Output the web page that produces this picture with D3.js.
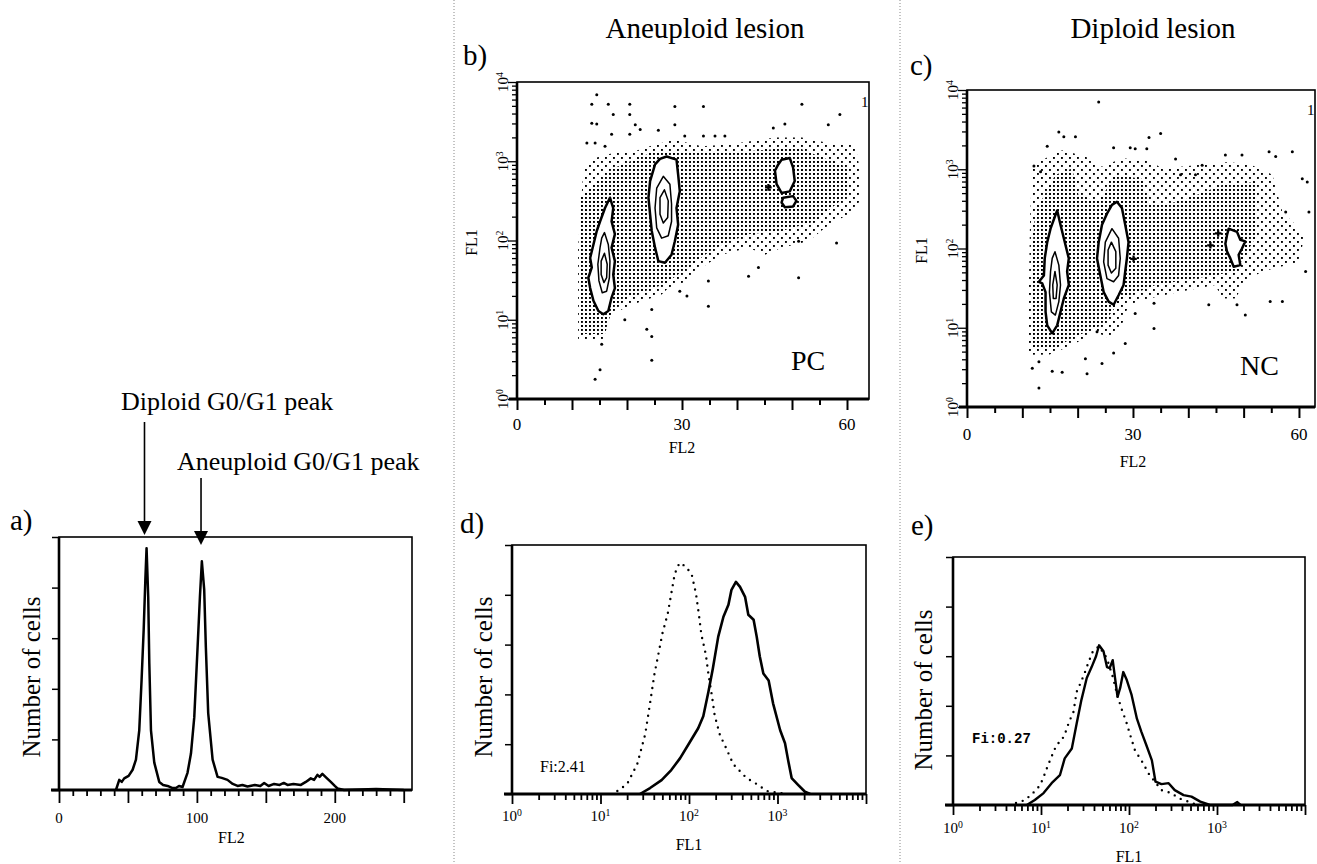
<!DOCTYPE html>
<html>
<head>
<meta charset="utf-8">
<script src="https://cdn.jsdelivr.net/npm/d3@7"></script>
<style>
  body { margin: 0; background: #fff; }
  svg { font-family: "Liberation Serif", "Times New Roman", serif; }
</style>
</head>
<body>
<svg id="fig" width="1317" height="864"></svg>
<script>
// ---------- a) DNA histogram: [FL2, number of cells]
const histA = [
  [41.3, 0], [43.7, 10], [45.5, 8], [47.3, 11.5], [50.5, 14], [53.4, 20], [55.8, 30], [58.2, 59],
  [59.9, 109], [61.4, 158], [62.6, 207], [63.5, 239], [64.7, 191], [65.5, 125], [66.7, 59],
  [69.1, 27], [72.7, 8], [75.5, 5], [78.7, 4], [82, 2], [84.8, 2], [87, 4], [89.6, 3],
  [93.2, 17], [95.7, 36], [98.1, 72], [100.5, 141], [102.2, 191], [103.6, 226], [105.3, 198],
  [106.5, 141], [108.2, 76], [111.4, 30], [115, 13], [118, 12], [122.2, 10], [126, 6],
  [129.5, 4], [133, 5], [136.7, 3.5], [142, 5], [146, 4], [148.8, 7], [152, 4], [156, 6],
  [160, 5], [163, 7], [165.7, 5], [170, 6], [175.4, 5], [179, 8], [182.6, 11.5], [185, 10],
  [187.4, 15], [189, 13], [191, 16], [194, 12], [197.1, 8], [200, 4], [202, 1.5], [206.7, 0],
  [230, 1], [250, 0]
];
const peaksA = [62, 103];
const peakNamesA = ["Diploid G0/G1 peak", "Aneuploid G0/G1 peak"];

// ---------- d) FL1 histograms, aneuploid lesion: [FL1, number of cells]
const controlD = [
  [15.5, 3], [20, 10], [26, 30], [32, 60], [36, 89], [40.6, 120], [45, 140], [50, 161],
  [57.5, 181], [63, 201], [69, 221], [78, 232], [90, 229], [107, 221], [120, 201], [129, 181],
  [138, 160], [155, 140], [166, 120], [182, 98], [195, 79], [224, 59], [257, 48], [316, 30],
  [447, 16], [582, 10], [759, 3], [977, 1.5], [1318, 0]
];
const stainedD = [
  [27.9, 0], [36.3, 6], [49, 14], [63, 24], [79.4, 36], [102, 52], [127, 66], [145, 78],
  [166, 103], [186, 126], [214, 158], [245, 178], [279, 190], [302, 205], [339, 213],
  [377, 208], [430, 198], [468, 180], [537, 175], [582, 158], [631, 138], [692, 121],
  [794, 114], [891, 91], [1072, 64], [1216, 51], [1318, 34], [1445, 16], [1718, 9],
  [2042, 2.3], [2344, 0]
];

// ---------- e) FL1 histograms, diploid lesion
const controlE = [
  [5.2, 2], [6.6, 5], [8.1, 12], [9.8, 20], [11, 31], [12, 40], [13.5, 51], [15.1, 61],
  [17.2, 65], [19.1, 74], [20.9, 84], [23.4, 94], [25.4, 114], [28.5, 124], [31.6, 134],
  [34.7, 144], [38.9, 155], [45.7, 160], [56, 148], [65, 130], [74, 110], [83, 96], [93, 84],
  [102, 72], [117, 55], [145, 42], [166, 32], [234, 15], [305, 12], [363, 7], [490, 3], [589, 0]
];
const stainedE = [
  [6.9, 0], [8.5, 5], [10.7, 12], [13.2, 22], [16.4, 30], [18.6, 47], [22.4, 57], [25.4, 82],
  [28.8, 106], [33.1, 128], [37.6, 139], [42.2, 150], [45.7, 161], [51.3, 155], [56.2, 139],
  [60.3, 138], [65.3, 146], [69.2, 129], [74.1, 109], [79.4, 118], [86.1, 134], [94.4, 126],
  [107, 111], [123, 87], [138, 74], [158, 60], [182, 45], [200, 23.5], [234, 21], [282, 22],
  [331, 15], [417, 10], [513, 8.4], [646, 3.4], [832, 0], [1500, 0], [1700, 3], [1850, 0]
];
const fiLabels = ["Fi:2.41", "Fi:0.27"];

// ---------- b) dot plot, aneuploid lesion: [FL2, log10 FL1]
const sparseB = [
  [12.1, 2.94], [14.2, 3.04], [17.8, 3.11], [21.5, 3.13], [25.1, 3.21], [28.7, 3.27], [33.6, 3.19],
  [38.4, 3.21], [42.1, 3.25], [46.9, 3.30], [51.8, 3.30], [56.6, 3.23], [61.5, 3.21], [62.4, 2.875],
  [62.4, 2.50], [60.2, 2.33], [56, 2.16], [53, 1.99], [48.1, 1.91], [45.1, 1.82], [42.1, 1.91],
  [37.2, 1.82], [33.6, 1.66], [31.1, 1.49], [27.5, 1.40], [26.3, 1.32], [20.9, 1.19], [17.2, 1.07],
  [15.7, 0.86], [15.7, 0.75], [11.1, 0.75], [11.1, 1.91], [11.8, 2.62]
];
const denseB = [
  [11.5, 2.54], [17.8, 2.92], [25.1, 3.13], [33.6, 3.11], [42.1, 3.13], [51.1, 3.17], [60.2, 2.92],
  [60.2, 2.58], [54.2, 2.24], [48.1, 2.12], [42.1, 2.08], [36, 1.91], [31.1, 1.66], [26.9, 1.45],
  [20.2, 1.28], [17.2, 1.11], [16, 0.82], [11.5, 0.82]
];
const outliersB = [
  [14.5, 3.84], [13.6, 3.72], [16.6, 3.72], [20.5, 3.72], [28.7, 3.69], [33.9, 3.69], [51.8, 3.72],
  [17.5, 3.59], [20.5, 3.59], [58.7, 3.59], [13.6, 3.48], [14.5, 3.47], [21.5, 3.46], [28.7, 3.46],
  [56.6, 3.46], [48.7, 3.47], [46.6, 3.42], [17.2, 3.34], [20.5, 3.34], [25.7, 3.39], [22.4, 3.40],
  [30.5, 3.32], [33.9, 3.32], [36, 3.32], [37.8, 3.32], [12.7, 3.23], [14.2, 3.23], [16, 3.19],
  [51.2, 1.99], [58.1, 1.97], [43.9, 1.66], [51.2, 1.53], [34.8, 1.49], [42.1, 1.55], [29.6, 1.36],
  [30.9, 1.30], [24.5, 1.13], [19.6, 1.0], [23.6, 0.88], [24.5, 0.79], [34.8, 1.17], [15.4, 0.69],
  [15.1, 0.37], [14.2, 0.25], [24.5, 0.49]
];
const crossesB = [[45.7, 2.67]];
const leftOuterB = [
  [16.9, 2.54], [17.5, 2.41], [17.2, 2.24], [17.8, 2.08], [17.2, 1.91], [17.8, 1.74], [17.5, 1.57],
  [17.8, 1.40], [17.2, 1.28], [16.6, 1.11], [15.7, 1.07], [14.8, 1.11], [13.9, 1.24], [13.3, 1.40],
  [12.97, 1.53], [13.6, 1.66], [13.3, 1.78], [13.9, 1.95], [14.5, 2.12], [15.1, 2.24], [16, 2.41]
];
const leftMidB = [
  [15.9, 2.10], [16.6, 1.95], [16.9, 1.74], [16.8, 1.53], [16.3, 1.36], [15.5, 1.34], [14.9, 1.49],
  [14.7, 1.70], [15.1, 1.91], [15.4, 2.03]
];
const leftInB = [[15.9, 1.84], [16.4, 1.70], [16.3, 1.53], [15.8, 1.47], [15.3, 1.57], [15.3, 1.74]];
const midOuterB = [
  [27.2, 3.06], [29.0, 3.02], [29.3, 2.83], [29.6, 2.62], [29.0, 2.41], [29.3, 2.20], [28.7, 1.99],
  [28.1, 1.82], [26.9, 1.72], [25.7, 1.74], [25.1, 1.91], [24.5, 2.12], [24.2, 2.33], [23.9, 2.54],
  [24.2, 2.75], [25.1, 2.96], [26.0, 3.03]
];
const midMidB = [
  [26.6, 2.81], [27.8, 2.71], [28.1, 2.46], [28.1, 2.24], [27.5, 2.06], [26.3, 2.03], [25.4, 2.16],
  [25.1, 2.41], [25.4, 2.66]
];
const midInB = [[26.8, 2.64], [27.5, 2.50], [27.4, 2.29], [26.6, 2.22], [26.0, 2.33], [26.0, 2.54]];
const rightUpB = [
  [48.1, 3.02], [49.6, 3.04], [50.2, 2.92], [50.5, 2.75], [49.6, 2.62], [48.1, 2.60], [47.2, 2.71],
  [46.9, 2.88], [47.5, 2.96]
];
const rightLowB = [[48.4, 2.54], [50.2, 2.56], [50.8, 2.50], [50.2, 2.43], [48.7, 2.42], [48.1, 2.48]];

// ---------- c) dot plot, diploid lesion
const sparseC = [
  [11.8, 3.05], [14.8, 3.16], [17.2, 3.24], [21.4, 3.16], [24.4, 3.03], [28.0, 3.14], [32.9, 3.11],
  [35.3, 3.01], [41.3, 3.05], [47.3, 3.09], [51.5, 3.05], [55.2, 2.93], [57.0, 2.46], [59.4, 2.30],
  [60.9, 2.13], [60.0, 1.83], [53.3, 1.71], [50.3, 1.58], [48.5, 1.37], [46.1, 1.37], [44.9, 1.54],
  [38.3, 1.45], [32.9, 1.37], [29.2, 1.29], [28.0, 1.03], [25.6, 0.87], [23.2, 0.95], [19.0, 0.78],
  [14.8, 0.66], [11.2, 0.66], [11.2, 1.54], [11.4, 2.38]
];
const denseC = [
  [12.3, 2.46], [15.97, 2.93], [19.0, 3.01], [20.2, 2.67], [23.8, 2.59], [26.8, 2.93], [31.6, 2.88],
  [32.9, 2.55], [38.3, 2.59], [46.1, 2.80], [52.1, 2.84], [52.1, 2.13], [48.5, 1.71], [41.3, 1.62],
  [34.1, 1.54], [28.0, 1.37], [24.4, 1.03], [19.0, 0.87], [15.97, 0.74], [11.8, 0.74], [11.8, 1.96]
];
const outliersC = [
  [23.8, 3.85], [16.6, 3.47], [17.5, 3.41], [19.6, 3.41], [14.5, 3.29], [32.9, 3.40], [35.0, 3.45],
  [26.5, 3.27], [29.5, 3.27], [30.4, 3.26], [32.5, 3.26], [12.1, 3.04], [13.3, 2.97], [37.7, 3.13],
  [42.5, 3.05], [38.6, 2.93], [41.3, 2.93], [46.7, 3.18], [49.7, 3.18], [54.6, 3.22], [58.8, 3.22],
  [55.8, 3.16], [60.6, 2.88], [61.5, 2.84], [57.6, 2.46], [61.8, 2.46], [61.2, 1.71], [57.0, 1.33],
  [54.8, 1.33], [50.3, 1.16], [48.8, 1.29], [43.7, 1.29], [33.8, 1.31], [30.4, 1.18], [33.8, 0.99],
  [28.6, 0.80], [23.5, 0.95], [21.4, 0.61], [24.4, 0.55], [26.5, 0.68], [11.8, 0.49], [13.0, 0.57],
  [15.4, 0.45], [17.2, 0.44], [13.0, 0.24], [21.7, 0.42]
];
const crossesC = [[30.1, 1.87], [44.0, 2.04], [45.4, 2.19]];
const leftOuterC = [
  [16.3, 2.48], [16.9, 2.30], [17.5, 2.13], [18.4, 1.875], [18.1, 1.71], [18.4, 1.54], [17.5, 1.37],
  [16.9, 1.20], [16.3, 1.03], [15.4, 0.93], [14.5, 1.03], [14.2, 1.20], [14.2, 1.45], [13.6, 1.56],
  [13.0, 1.58], [13.9, 1.66], [14.05, 1.875], [14.5, 2.08], [15.1, 2.25], [15.97, 2.42]
];
const leftMidC = [
  [15.9, 1.96], [16.6, 1.79], [16.9, 1.54], [16.6, 1.33], [15.97, 1.16], [15.25, 1.20], [14.9, 1.45],
  [15.1, 1.71], [15.4, 1.875]
];
const leftInC = [[15.9, 1.71], [16.3, 1.54], [16.1, 1.37], [15.6, 1.37], [15.5, 1.54]];
const midOuterC = [
  [27.1, 2.59], [28.0, 2.51], [28.6, 2.30], [29.2, 2.08], [28.9, 1.875], [28.6, 1.71], [28.3, 1.54],
  [27.4, 1.41], [26.5, 1.29], [25.6, 1.33], [24.7, 1.45], [24.1, 1.66], [23.5, 1.875], [23.8, 2.08],
  [24.4, 2.30], [25.3, 2.44], [26.2, 2.55]
];
const midMidC = [
  [26.2, 2.25], [27.4, 2.13], [27.7, 1.875], [27.4, 1.66], [26.5, 1.58], [25.3, 1.62], [24.7, 1.83],
  [25.0, 2.08]
];
const midInC = [[26.1, 2.08], [26.9, 1.96], [26.9, 1.75], [26.1, 1.69], [25.5, 1.79], [25.5, 1.98]];
const rightC = [
  [47.3, 2.25], [48.8, 2.21], [49.4, 2.11], [50.3, 2.09], [49.7, 2.0], [49.1, 1.92], [49.4, 1.79],
  [48.2, 1.77], [47.6, 1.875], [47.0, 1.96], [46.7, 2.06], [47.0, 2.17]
];

const fl2Ticks = [0, 30, 60];
const decades = [0, 1, 2, 3, 4];
const countTicks = [0, 50, 100, 150, 200, 250];

const svg = d3.select("#fig");

// dot-plot shading patterns (full grid and half grid)
const defs = svg.append("defs");
const dense = defs.append("pattern").attr("id", "denseDots")
  .attr("patternUnits", "userSpaceOnUse").attr("width", 4).attr("height", 4);
dense.append("rect").attr("x", 1).attr("y", 1).attr("width", 1.9).attr("height", 1.9).attr("fill", "#000");
const sparse = defs.append("pattern").attr("id", "sparseDots")
  .attr("patternUnits", "userSpaceOnUse").attr("width", 8).attr("height", 8);
sparse.append("rect").attr("x", 1).attr("y", 1).attr("width", 1.9).attr("height", 1.9).attr("fill", "#000");
sparse.append("rect").attr("x", 5).attr("y", 5).attr("width", 1.9).attr("height", 1.9).attr("fill", "#000");

// panel separators
[454, 900].forEach((sx) => {
  svg.append("line").attr("x1", sx).attr("x2", sx).attr("y1", 0).attr("y2", 864)
    .attr("stroke", "#888").attr("stroke-width", 1).attr("stroke-dasharray", "1,2");
});

function text(g, x, y, str, size, opts = {}) {
  const t = g.append("text").attr("font-size", size).text(str);
  if (opts.rotate) t.attr("transform", `translate(${x},${y}) rotate(-90)`);
  else t.attr("x", x).attr("y", y);
  if (opts.anchor) t.attr("text-anchor", opts.anchor);
  if (opts.family) t.attr("font-family", opts.family);
  if (opts.weight) t.attr("font-weight", opts.weight);
  return t;
}

function powerLabel(g, x, y, exp, size, rotate) {
  const t = g.append("text").attr("font-size", size).attr("text-anchor", "middle");
  if (rotate) t.attr("transform", `translate(${x},${y}) rotate(-90)`);
  else t.attr("x", x).attr("y", y);
  t.append("tspan").text("10");
  t.append("tspan").attr("dy", "-0.5em").attr("font-size", size * 0.65).text(exp);
}

function isDecade(v) {
  const l = Math.log10(v);
  return Math.abs(l - Math.round(l)) < 1e-6;
}

function frame(g, x0, x1, y0, y1) {
  g.append("rect").attr("x", x0).attr("y", y1).attr("width", x1 - x0).attr("height", y0 - y1)
    .attr("fill", "none").attr("stroke", "#000").attr("stroke-width", 1.6);
  g.append("line").attr("x1", x0).attr("x2", x0).attr("y1", y1).attr("y2", y0)
    .attr("stroke", "#000").attr("stroke-width", 2.6);
  g.append("line").attr("x1", x0 - 8).attr("x2", x1).attr("y1", y0).attr("y2", y0)
    .attr("stroke", "#000").attr("stroke-width", 2.8);
}

// ---------- dot plots
function dotPlot(p) {
  const x = d3.scaleLinear().domain([0, p.xMax]).range([p.x0, p.x1]);
  const y = d3.scaleLog().domain([1, 1e4]).range([p.y0, p.y1]);
  const g = svg.append("g");
  const shape = d3.line().x((d) => x(d[0])).y((d) => y(10 ** d[1])).curve(d3.curveLinearClosed);

  g.append("path").attr("d", shape(p.sparse)).attr("fill", "url(#sparseDots)");
  g.append("path").attr("d", shape(p.dense)).attr("fill", "url(#denseDots)");

  g.selectAll(".outlier").data(p.outliers).join("circle").attr("class", "outlier")
    .attr("cx", (d) => x(d[0])).attr("cy", (d) => y(10 ** d[1])).attr("r", 1.5);
  g.selectAll(".cross").data(p.crosses).join("path").attr("class", "cross")
    .attr("transform", (d) => `translate(${x(d[0])},${y(10 ** d[1])})`)
    .attr("d", d3.symbol(d3.symbolCross, 24));

  g.selectAll(".contour").data(p.contours).join("path").attr("class", "contour")
    .attr("d", (d) => shape(d.pts))
    .attr("fill", "#fff")
    .attr("stroke", "#000").attr("stroke-linejoin", "round")
    .attr("stroke-width", (d) => (d.level === 0 ? 2.5 : 1.5));

  frame(g, p.x0, p.x1, p.y0, p.y1);

  // y axis, log ticks
  g.append("g").attr("transform", `translate(${p.x0},0)`)
    .call(d3.axisLeft(y).tickFormat("").tickSizeOuter(0))
    .call((a) => a.select(".domain").remove())
    .call((a) => a.selectAll(".tick line").attr("x2", (d) => (isDecade(d) ? -9 : -5)).attr("stroke-width", 1.3));
  decades.forEach((e) => powerLabel(g, p.x0 - 9, y(10 ** e), e, 15, true));
  text(g, p.x0 - 40, (p.y0 + p.y1) / 2 + 2, "FL1", 16, { rotate: true, anchor: "middle" });

  // x axis
  g.append("g").attr("transform", `translate(0,${p.y0})`)
    .call(d3.axisBottom(x).tickValues(d3.range(0, 61, 5)).tickFormat("").tickSizeOuter(0))
    .call((a) => a.select(".domain").remove())
    .call((a) => a.selectAll(".tick line").attr("y2", (d) => (d % 10 === 0 ? 11 : 6)).attr("stroke-width", 2));
  fl2Ticks.forEach((v) => text(g, x(v), p.y0 + p.labelDy, v, 17, { anchor: "middle" }));
  text(g, x(30), p.y0 + p.titleDy, "FL2", 16, { anchor: "middle" });

  text(g, p.tagX, p.tagY, p.tag, 29);
  text(g, p.codeX, p.codeY, p.code, 28);
  text(g, p.x1 - 8, p.y1 + 25, "1", 15);
  text(g, (p.x0 + p.x1) / 2 + 12, 38, p.title, 29, { anchor: "middle" });
}

dotPlot({
  x0: 517, x1: 869, y0: 399, y1: 82, xMax: 64,
  sparse: sparseB, dense: denseB, outliers: outliersB, crosses: crossesB,
  contours: [
    { level: 0, pts: leftOuterB }, { level: 1, pts: leftMidB }, { level: 2, pts: leftInB },
    { level: 0, pts: midOuterB }, { level: 1, pts: midMidB }, { level: 2, pts: midInB },
    { level: 0, pts: rightUpB }, { level: 0, pts: rightLowB }
  ],
  labelDy: 31, titleDy: 54, tag: "b)", tagX: 463, tagY: 65,
  code: "PC", codeX: 791, codeY: 370, title: "Aneuploid lesion"
});

dotPlot({
  x0: 967, x1: 1315, y0: 407, y1: 90, xMax: 62.9,
  sparse: sparseC, dense: denseC, outliers: outliersC, crosses: crossesC,
  contours: [
    { level: 0, pts: leftOuterC }, { level: 1, pts: leftMidC }, { level: 2, pts: leftInC },
    { level: 0, pts: midOuterC }, { level: 1, pts: midMidC }, { level: 2, pts: midInC },
    { level: 0, pts: rightC }
  ],
  labelDy: 33, titleDy: 60, tag: "c)", tagX: 910, tagY: 75,
  code: "NC", codeX: 1240, codeY: 375, title: "Diploid lesion"
});

// ---------- histograms
function histogram(p) {
  const x = p.log
    ? d3.scaleLog().domain([1, 1e4]).range([p.x0, p.x1])
    : d3.scaleLinear().domain([0, 256]).range([p.x0, p.x1]);
  const y = d3.scaleLinear().domain([0, 250]).range([p.y0, p.y1]);
  const g = svg.append("g");

  frame(g, p.x0, p.x1, p.y0, p.y1);

  g.append("g").attr("transform", `translate(${p.x0},0)`)
    .call(d3.axisLeft(y).tickValues(countTicks).tickFormat("").tickSize(7).tickSizeOuter(0))
    .call((a) => a.select(".domain").remove())
    .call((a) => a.selectAll(".tick line").attr("stroke-width", 1.5));

  if (p.log) {
    g.append("g").attr("transform", `translate(0,${p.y0})`)
      .call(d3.axisBottom(x).tickFormat("").tickSizeOuter(0))
      .call((a) => a.select(".domain").remove())
      .call((a) => a.selectAll(".tick line").attr("y2", (d) => (isDecade(d) ? 10 : 6)).attr("stroke-width", 1.8));
    [0, 1, 2, 3].forEach((e) => powerLabel(g, x(10 ** e), p.y0 + p.labelDy, e, 15, false));
    text(g, (x(10) + x(1000)) / 2, p.y0 + p.titleDy, "FL1", 16, { anchor: "middle" });
  } else {
    g.append("g").attr("transform", `translate(0,${p.y0})`)
      .call(d3.axisBottom(x).tickValues(d3.range(0, 251, 10)).tickFormat("").tickSizeOuter(0))
      .call((a) => a.select(".domain").remove())
      .call((a) => a.selectAll(".tick line").attr("y2", (d) => (d % 50 === 0 ? 13 : 6)).attr("stroke-width", 1.8));
    [0, 100, 200].forEach((v) => text(g, x(v), p.y0 + p.labelDy, v, 15, { anchor: "middle" }));
    text(g, x(125), p.y0 + p.titleDy, "FL2", 16, { anchor: "middle" });
  }

  const line = d3.line().x((d) => x(d[0])).y((d) => y(d[1]));
  if (p.control) {
    g.append("path").attr("d", line(p.control)).attr("fill", "none").attr("stroke", "#000")
      .attr("stroke-width", 2.4).attr("stroke-linecap", "round").attr("stroke-dasharray", "0,7");
  }
  g.append("path").attr("d", line(p.stained)).attr("fill", "none").attr("stroke", "#000")
    .attr("stroke-width", p.width).attr("stroke-linejoin", "round");

  text(g, p.yTitleX, p.yTitleY, "Number of cells", 25, { rotate: true, anchor: "middle" });
  text(g, p.tagX, p.tagY, p.tag, 29);
  if (p.fi) text(g, p.fi.x, p.fi.y, p.fi.label, p.fi.size, p.fi.opts);
  return { x, y, g };
}

const a = histogram({
  x0: 59, x1: 412, y0: 790, y1: 537, log: false,
  stained: histA, width: 2.5, labelDy: 33, titleDy: 53,
  yTitleX: 40, yTitleY: 677, tag: "a)", tagX: 10, tagY: 530
});

// peak arrows and names
peaksA.forEach((v, i) => {
  const px = a.x(v);
  const top = i === 0 ? 422 : 478;
  const tip = i === 0 ? 535 : 545;
  a.g.append("line").attr("x1", px).attr("x2", px).attr("y1", top).attr("y2", tip - 12)
    .attr("stroke", "#000").attr("stroke-width", 1.6);
  a.g.append("path").attr("d", `M${px - 7},${tip - 14}L${px + 7},${tip - 14}L${px},${tip}Z`).attr("fill", "#000");
});
text(a.g, 121, 410, peakNamesA[0], 26);
text(a.g, 177, 470, peakNamesA[1], 26);

histogram({
  x0: 512, x1: 866, y0: 794, y1: 545, log: true,
  control: controlD, stained: stainedD, width: 2.6, labelDy: 27, titleDy: 56,
  yTitleX: 492, yTitleY: 677, tag: "d)", tagX: 460, tagY: 533,
  fi: { x: 540, y: 772, label: fiLabels[0], size: 16, opts: {} }
});

histogram({
  x0: 953, x1: 1305, y0: 805, y1: 557, log: true,
  control: controlE, stained: stainedE, width: 2.4, labelDy: 28, titleDy: 57,
  yTitleX: 932, yTitleY: 690, tag: "e)", tagX: 911, tagY: 535,
  fi: { x: 972, y: 743, label: fiLabels[1], size: 14,
        opts: { family: "'Liberation Mono', 'DejaVu Sans Mono', monospace", weight: "bold" } }
});
</script>
</body>
</html>
